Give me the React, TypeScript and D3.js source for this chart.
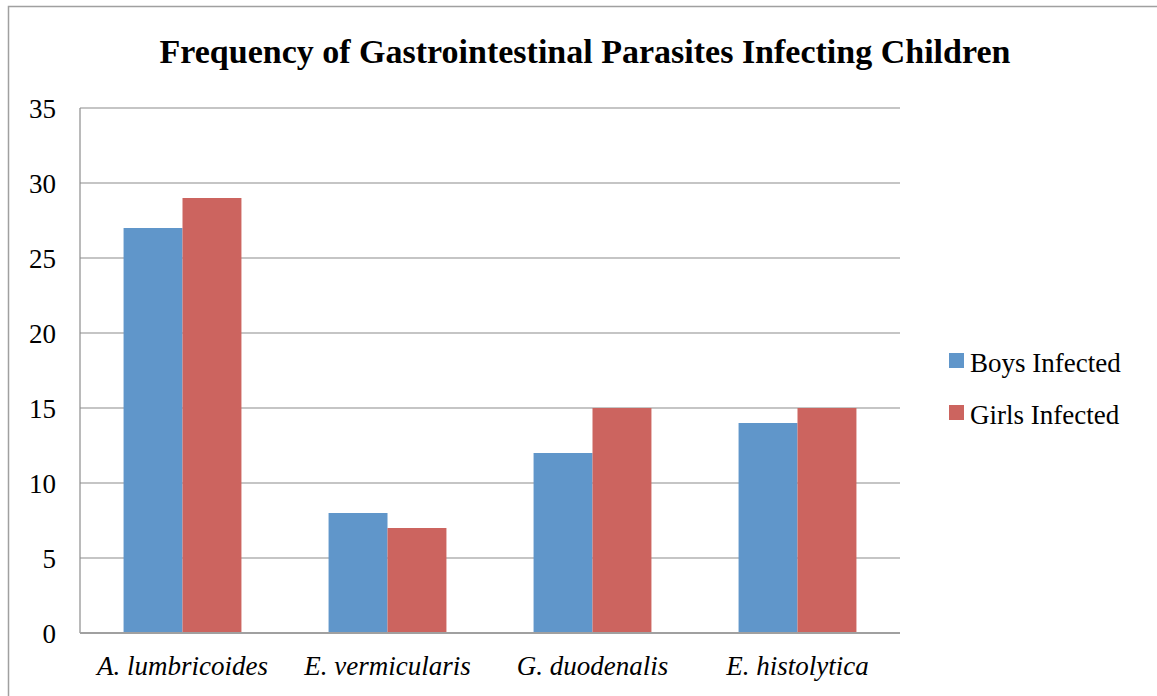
import React, { useRef, useEffect } from 'react';
import * as d3 from 'd3';

const categories = ['A. lumbricoides', 'E. vermicularis', 'G. duodenalis', 'E. histolytica'];
const boysInfected = [27, 8, 12, 14];
const girlsInfected = [29, 7, 15, 15];
const seriesNames = ['Boys Infected', 'Girls Infected'];
const seriesColors = ['#6096CA', '#CC645F'];
const yTicks = [0, 5, 10, 15, 20, 25, 30, 35];

const App: React.FC = () => {
    const svgRef = useRef<SVGSVGElement | null>(null);

    useEffect(() => {
        if (!svgRef.current) return;

        const width = 1157;
        const height = 696;
        const plot = { left: 80, right: 900, top: 108, bottom: 633 };
        const font = '"Liberation Serif", "DejaVu Serif", serif';

        const svg = d3.select(svgRef.current);
        svg.selectAll('*').remove();

        // outer frame (runs past the window on the right and bottom)
        svg.append('rect')
            .attr('x', 8.5).attr('y', 6.5)
            .attr('width', width + 20).attr('height', height + 20)
            .attr('fill', 'white').attr('stroke', '#a0a0a0').attr('stroke-width', 1.5);

        const x0 = d3.scaleBand<string>()
            .domain(categories)
            .range([plot.left, plot.right])
            .paddingInner(0.425)
            .paddingOuter(0.2125);

        const x1 = d3.scaleBand<number>()
            .domain([0, 1])
            .range([0, x0.bandwidth()]);

        const y = d3.scaleLinear().domain([0, 35]).range([plot.bottom, plot.top]);

        // gridlines
        svg.append('g')
            .selectAll('line')
            .data(yTicks)
            .join('line')
            .attr('x1', plot.left).attr('x2', plot.right)
            .attr('y1', d => y(d)).attr('y2', d => y(d))
            .attr('stroke', '#8c8c8c').attr('stroke-width', 1.2);

        // left axis line
        svg.append('line')
            .attr('x1', plot.left).attr('x2', plot.left)
            .attr('y1', plot.top).attr('y2', plot.bottom)
            .attr('stroke', '#8c8c8c').attr('stroke-width', 1.2);

        // bars
        const rows = categories.map((c, i) => ({ c, vals: [boysInfected[i], girlsInfected[i]] }));
        svg.append('g')
            .selectAll('g')
            .data(rows)
            .join('g')
            .attr('transform', d => `translate(${x0(d.c)},0)`)
            .selectAll('rect')
            .data(d => d.vals.map((v, k) => ({ v, k })))
            .join('rect')
            .attr('x', d => x1(d.k) as number)
            .attr('y', d => y(d.v))
            .attr('width', x1.bandwidth())
            .attr('height', d => plot.bottom - y(d.v))
            .attr('fill', d => seriesColors[d.k]);

        // bottom axis line on top of bars
        svg.append('line')
            .attr('x1', plot.left).attr('x2', plot.right)
            .attr('y1', plot.bottom).attr('y2', plot.bottom)
            .attr('stroke', '#a0a0a0').attr('stroke-width', 2);

        // y tick labels
        svg.append('g')
            .selectAll('text')
            .data(yTicks)
            .join('text')
            .attr('x', 56)
            .attr('y', d => y(d) + 10)
            .attr('text-anchor', 'end')
            .attr('font-family', font)
            .attr('font-size', 27)
            .attr('fill', '#000')
            .text(d => d);

        // x labels
        svg.append('g')
            .selectAll('text')
            .data(categories)
            .join('text')
            .attr('x', d => (x0(d) as number) + x0.bandwidth() / 2)
            .attr('y', 675)
            .attr('text-anchor', 'middle')
            .attr('font-family', font)
            .attr('font-style', 'italic')
            .attr('font-size', 27)
            .attr('fill', '#000')
            .text(d => d);

        // title
        svg.append('text')
            .attr('x', 585)
            .attr('y', 63)
            .attr('text-anchor', 'middle')
            .attr('font-family', font)
            .attr('font-weight', 'bold')
            .attr('font-size', 34)
            .attr('fill', '#000')
            .text('Frequency of Gastrointestinal Parasites Infecting Children');

        // legend
        const legend = svg.append('g')
            .selectAll('g')
            .data(seriesNames)
            .join('g')
            .attr('transform', (_, i) => `translate(949,${353 + i * 52})`);
        legend.append('rect')
            .attr('width', 15).attr('height', 15)
            .attr('fill', (_, i) => seriesColors[i]);
        legend.append('text')
            .attr('x', 21).attr('y', 19)
            .attr('font-family', font)
            .attr('font-size', 27)
            .attr('fill', '#000')
            .text(d => d);
    }, []);

    return <svg ref={svgRef} width={1157} height={696} style={{ display: 'block', position: 'absolute', left: 0, top: 0 }} />;
};

export default App;
